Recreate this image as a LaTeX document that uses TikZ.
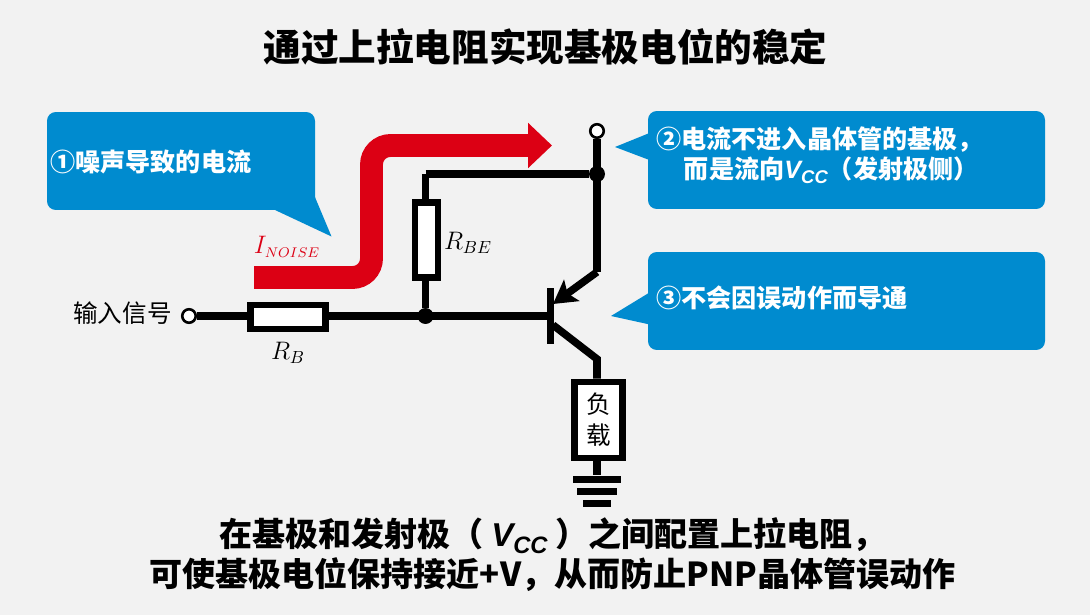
\documentclass[tikz,border=0pt]{standalone}
\usepackage{fontspec}
\usepackage{amsmath}
\usetikzlibrary{arrows.meta}
\setmainfont{Noto Sans CJK SC}
\newfontfamily\latin{Liberation Sans}
\DeclareMathSizes{15}{15}{8}{6}
\definecolor{pagegray}{HTML}{F2F2F2}
\definecolor{noteblue}{HTML}{008BCF}
\definecolor{noisered}{HTML}{DC0014}
\newcommand{\vccbold}[1]{{\latin\bfseries\itshape V\raisebox{-0.35ex}{\fontsize{#1}{#1}\selectfont CC}}}
\tikzset{
	wire/.style={line width=4.3pt},
	note/.style={fill=noteblue,rounded corners=5pt,minimum width=#1*0.02cm,minimum height=1.96cm,inner sep=0pt},
	notetail/.style={fill=noteblue},
	notetext/.style={text=white,font=\fontsize{14.3}{17.2}\selectfont\bfseries,align=left,inner sep=0pt},
	terminal/.style={circle,draw=black,fill=white,line width=1.5pt,minimum size=0.27cm,inner sep=0pt},
	junction/.style={circle,fill=black,minimum size=0.32cm,inner sep=0pt},
	resistor/.style={draw=black,fill=white,line width=3.9pt,inner sep=0pt},
	barblock/.style={fill=black,inner sep=0pt},
	heading/.style={font=\fontsize{#1}{22.7}\selectfont\bfseries,align=center,inner sep=0pt},
}
\begin{document}
\begin{tikzpicture}[x=0.02cm,y=-0.02cm]
	\useasboundingbox [fill=pagegray] (0,0) rectangle (1090,615);
	\node [heading=21.4] (title) at (545.5,47) {通过上拉电阻实现基极电位的稳定};
	% callouts
	\fill [notetail] (312,190) -- (331.5,236.5) -- (275,210) -- cycle;
	\node [note=268] (noteA) at (181,161) {};
	\fill [notetail] (652,132) -- (615,147) -- (652,161) -- cycle;
	\node [note=397] (noteB) at (846.5,160) {};
	\fill [notetail] (652,291) -- (611,316) -- (652,325) -- cycle;
	\node [note=397] (noteC) at (846.5,301) {};
	\node [notetext,anchor=west] (textA) at (50,162) {①噪声导致的电流};
	\node [notetext,anchor=west] (textB) at (656,155) {②电流不进入晶体管的基极，\\\hspace*{1.1em}而是流向\vccbold{10.5}（发射极侧）};
	\node [notetext,anchor=west] (textC) at (656,298) {③不会因误动作而导通};
	% noise current
	\coordinate (noiseA) at (254,277.5);
	\coordinate (noiseB) at (371.5,277.5);
	\coordinate (noiseC) at (371.5,145.5);
	\coordinate (noiseD) at (552,145.5);
	\draw [noisered,line width=13pt,rounded corners=0.38cm,-{Triangle[length=0.48cm,width=0.88cm]}] (noiseA) -- (noiseB) -- (noiseC) -- (noiseD);
	\node [text=noisered,font=\fontsize{15}{18}\selectfont,inner sep=0pt] (noiselabel) at (287,247) {$I_{NOISE}$};
	% circuit
	\node [terminal] (input) at (189,316) {};
	\node [terminal] (supply) at (597,131) {};
	\node [junction] (topdot) at (597,174) {};
	\node [junction] (basedot) at (425.5,316) {};
	\node [barblock,minimum width=0.14cm,minimum height=1.12cm] (basebar) at (550.5,316) {};
	\coordinate (topleft) at (425.5,174);
	\coordinate (emitterbend) at (597,272);
	\coordinate (emittertip) at (553,304);
	\coordinate (collectorfoot) at (553,325);
	\coordinate (collectorbend) at (597,359);
	\node [resistor,minimum width=1.5cm,minimum height=0.48cm] (rb) at (288,317) {};
	\node [resistor,minimum width=0.46cm,minimum height=1.5cm] (rbe) at (426.5,240) {};
	\node [resistor,minimum width=0.96cm,minimum height=1.52cm,align=center,font=\fontsize{14}{17.6}\selectfont] (load) at (598.5,420) {负\\载};
	\draw [wire] (input) -- (rb.west |- input);
	\draw [wire] (rb.east |- input) -- (basebar.west);
	\draw [wire] (topleft) -- (rbe.north -| topleft);
	\draw [wire] (rbe.south -| basedot) -- (basedot);
	\draw [wire] (topleft) -- (topdot);
	\draw [wire] (supply) -- (emitterbend);
	\draw [wire,-{Stealth[length=0.46cm,width=0.52cm,inset=0.1cm]}] (emitterbend) -- (emittertip);
	\draw [wire] (collectorfoot) -- (collectorbend) -- (load.north -| collectorbend);
	\node [barblock,minimum width=0.96cm,minimum height=0.14cm] (gndA) at (597,479) {};
	\node [barblock,minimum width=0.8cm,minimum height=0.14cm] (gndB) at (597,491) {};
	\node [barblock,minimum width=0.56cm,minimum height=0.14cm] (gndC) at (597,503) {};
	\draw [wire] (load.south -| gndA) -- (gndA);
	% labels
	\node [font=\fontsize{14}{18}\selectfont,anchor=east,inner sep=0pt] (inputlabel) at (172,313) {输入信号};
	\node [font=\fontsize{14}{18}\selectfont,inner sep=0pt] (rblabel) at (288,353) {$R_B$};
	\node [font=\fontsize{14}{18}\selectfont,inner sep=0pt] (rbelabel) at (468,243) {$R_{BE}$};
	% bottom text
	\node [heading=18.8] (summary) at (552.5,555) {在基极和发射极（ \vccbold{13.5} ）之间配置上拉电阻，\\可使基极电位保持接近+V，从而防止PNP晶体管误动作};
\end{tikzpicture}
\end{document}
